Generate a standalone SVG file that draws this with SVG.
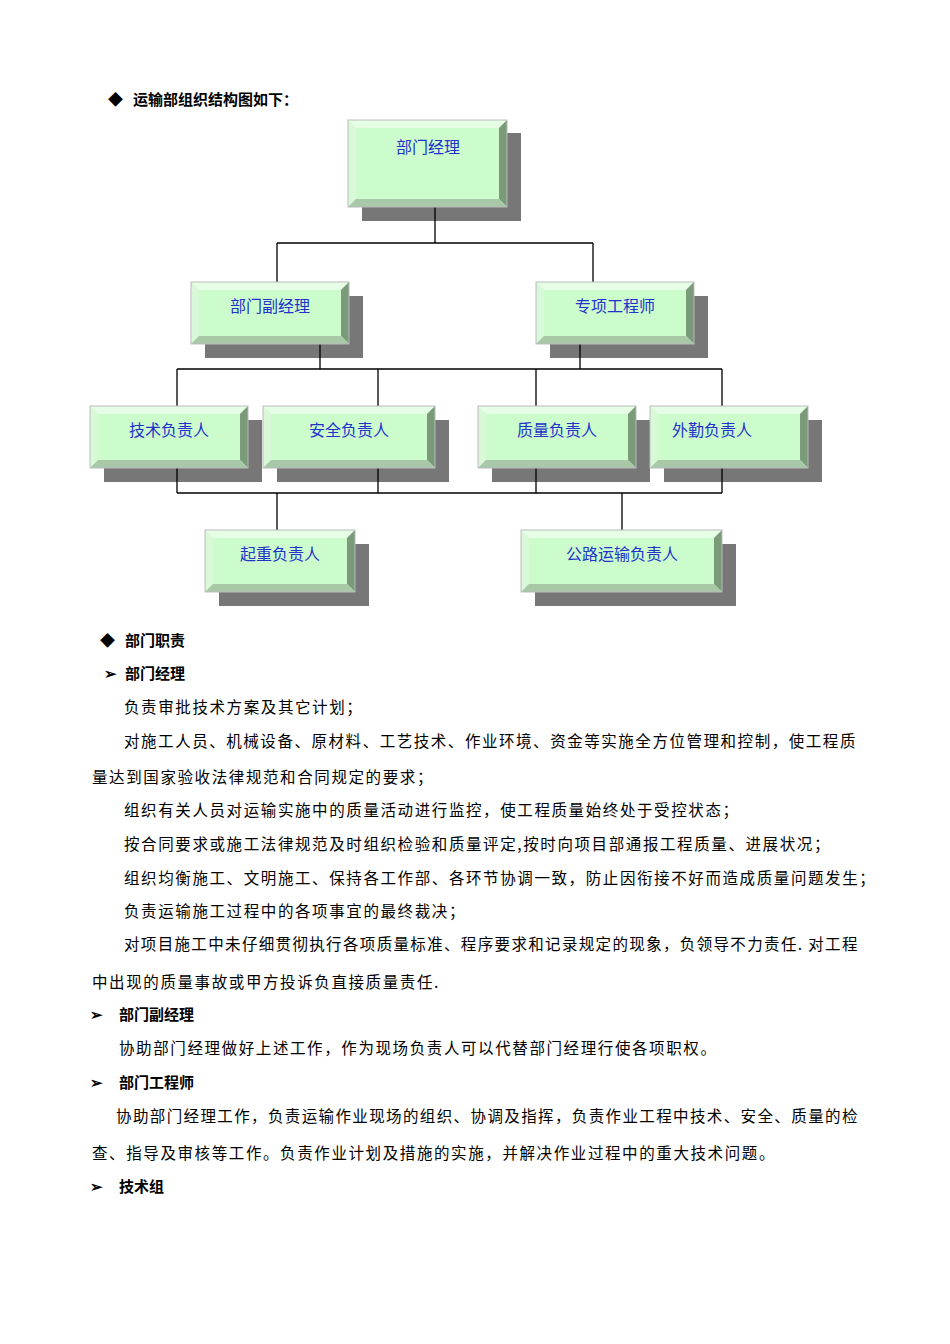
<svg xmlns="http://www.w3.org/2000/svg" width="950" height="1344" viewBox="0 0 950 1344">
<defs>
<style>
.sh{fill:#777}
.f{fill:#ccfccc}
.bt{fill:#e6fde6}
.bl{fill:#d8f8d8}
.br{fill:#7a9a7a}
.bb{fill:#a8c8a8}
.o{fill:none;stroke:#bbb;stroke-width:1}
.nt{font-family:"Noto Sans CJK SC",sans-serif;font-size:16px;fill:#2233cc;text-anchor:middle}
.c{stroke:#000;stroke-width:1.3;fill:none}
.t{font-family:"Noto Sans CJK SC",sans-serif;font-size:15.5px;fill:#000;letter-spacing:1.6px}
.h{font-family:"Noto Sans CJK SC",sans-serif;font-size:15px;font-weight:bold;fill:#000}
</style>
</defs>
<rect width="950" height="1344" fill="#fff"/>
<text class="h" y="105"><tspan x="108">◆</tspan><tspan x="133">运输部组织结构图如下：</tspan></text>
<g id="shadows">
<rect class="sh" x="362" y="133" width="159" height="88"/>
<rect class="sh" x="205" y="296" width="158" height="62"/>
<rect class="sh" x="550" y="296" width="158" height="62"/>
<rect class="sh" x="104" y="420" width="158" height="62"/>
<rect class="sh" x="277" y="420" width="172" height="62"/>
<rect class="sh" x="492" y="420" width="158" height="62"/>
<rect class="sh" x="664" y="420" width="158" height="62"/>
<rect class="sh" x="219" y="544" width="150" height="62"/>
<rect class="sh" x="535" y="544" width="201" height="62"/>
</g>
<g id="connectors">
<path class="c" d="M435 207V243M277 243H593M277 243V282M593 243V282"/>
<path class="c" d="M320 344V369M580 344V369M177 369H722M177 369V406M378 369V406M536 369V406M722 369V406"/>
<path class="c" d="M177 468V493M378 468V493M536 468V493M722 468V493M177 493H722M277 493V530M622 493V530"/>
</g>
<g id="n1"><rect class="f" x="348" y="120" width="159" height="87"/><polygon class="bt" points="348,120 507,120 499,128 356,128"/><polygon class="bl" points="348,120 356,128 356,199 348,207"/><polygon class="br" points="507,120 507,207 499,199 499,128"/><polygon class="bb" points="348,207 507,207 499,199 356,199"/><rect class="o" x="348" y="120" width="159" height="87"/><text class="nt" x="428" y="153">部门经理</text></g>
<g id="n2"><rect class="f" x="191" y="282" width="158" height="62"/><polygon class="bt" points="191,282 349,282 341,290 199,290"/><polygon class="bl" points="191,282 199,290 199,336 191,344"/><polygon class="br" points="349,282 349,344 341,336 341,290"/><polygon class="bb" points="191,344 349,344 341,336 199,336"/><rect class="o" x="191" y="282" width="158" height="62"/><text class="nt" x="270" y="312">部门副经理</text></g>
<g id="n3"><rect class="f" x="536" y="282" width="158" height="62"/><polygon class="bt" points="536,282 694,282 686,290 544,290"/><polygon class="bl" points="536,282 544,290 544,336 536,344"/><polygon class="br" points="694,282 694,344 686,336 686,290"/><polygon class="bb" points="536,344 694,344 686,336 544,336"/><rect class="o" x="536" y="282" width="158" height="62"/><text class="nt" x="615" y="312">专项工程师</text></g>
<g id="n4"><rect class="f" x="90" y="406" width="158" height="62"/><polygon class="bt" points="90,406 248,406 240,414 98,414"/><polygon class="bl" points="90,406 98,414 98,460 90,468"/><polygon class="br" points="248,406 248,468 240,460 240,414"/><polygon class="bb" points="90,468 248,468 240,460 98,460"/><rect class="o" x="90" y="406" width="158" height="62"/><text class="nt" x="169" y="436">技术负责人</text></g>
<g id="n5"><rect class="f" x="263" y="406" width="172" height="62"/><polygon class="bt" points="263,406 435,406 427,414 271,414"/><polygon class="bl" points="263,406 271,414 271,460 263,468"/><polygon class="br" points="435,406 435,468 427,460 427,414"/><polygon class="bb" points="263,468 435,468 427,460 271,460"/><rect class="o" x="263" y="406" width="172" height="62"/><text class="nt" x="349" y="436">安全负责人</text></g>
<g id="n6"><rect class="f" x="478" y="406" width="158" height="62"/><polygon class="bt" points="478,406 636,406 628,414 486,414"/><polygon class="bl" points="478,406 486,414 486,460 478,468"/><polygon class="br" points="636,406 636,468 628,460 628,414"/><polygon class="bb" points="478,468 636,468 628,460 486,460"/><rect class="o" x="478" y="406" width="158" height="62"/><text class="nt" x="557" y="436">质量负责人</text></g>
<g id="n7"><rect class="f" x="650" y="406" width="158" height="62"/><polygon class="bt" points="650,406 808,406 800,414 658,414"/><polygon class="bl" points="650,406 658,414 658,460 650,468"/><polygon class="br" points="808,406 808,468 800,460 800,414"/><polygon class="bb" points="650,468 808,468 800,460 658,460"/><rect class="o" x="650" y="406" width="158" height="62"/><text class="nt" x="712" y="436">外勤负责人</text></g>
<g id="n8"><rect class="f" x="205" y="530" width="150" height="62"/><polygon class="bt" points="205,530 355,530 347,538 213,538"/><polygon class="bl" points="205,530 213,538 213,584 205,592"/><polygon class="br" points="355,530 355,592 347,584 347,538"/><polygon class="bb" points="205,592 355,592 347,584 213,584"/><rect class="o" x="205" y="530" width="150" height="62"/><text class="nt" x="280" y="560">起重负责人</text></g>
<g id="n9"><rect class="f" x="521" y="530" width="201" height="62"/><polygon class="bt" points="521,530 722,530 714,538 529,538"/><polygon class="bl" points="521,530 529,538 529,584 521,592"/><polygon class="br" points="722,530 722,592 714,584 714,538"/><polygon class="bb" points="521,592 722,592 714,584 529,584"/><rect class="o" x="521" y="530" width="201" height="62"/><text class="nt" x="622" y="560">公路运输负责人</text></g>
<text class="h" y="646"><tspan x="100">◆</tspan><tspan x="125">部门职责</tspan></text>
<text class="h" y="679"><tspan x="104">➢</tspan><tspan x="125">部门经理</tspan></text>
<text class="t" x="124" y="713">负责审批技术方案及其它计划；</text>
<text class="t" x="124" y="747" textLength="733">对施工人员、机械设备、原材料、工艺技术、作业环境、资金等实施全方位管理和控制，使工程质</text>
<text class="t" x="92" y="783">量达到国家验收法律规范和合同规定的要求；</text>
<text class="t" x="124" y="816">组织有关人员对运输实施中的质量活动进行监控，使工程质量始终处于受控状态；</text>
<text class="t" x="124" y="850">按合同要求或施工法律规范及时组织检验和质量评定,按时向项目部通报工程质量、进展状况；</text>
<text class="t" x="124" y="884">组织均衡施工、文明施工、保持各工作部、各环节协调一致，防止因衔接不好而造成质量问题发生；</text>
<text class="t" x="124" y="917">负责运输施工过程中的各项事宜的最终裁决；</text>
<text class="t" x="124" y="950" textLength="735">对项目施工中未仔细贯彻执行各项质量标准、程序要求和记录规定的现象，负领导不力责任. 对工程</text>
<text class="t" x="92" y="988">中出现的质量事故或甲方投诉负直接质量责任.</text>
<text class="h" y="1020"><tspan x="90">➢</tspan><tspan x="119">部门副经理</tspan></text>
<text class="t" x="119" y="1054">协助部门经理做好上述工作，作为现场负责人可以代替部门经理行使各项职权。</text>
<text class="h" y="1088"><tspan x="90">➢</tspan><tspan x="119">部门工程师</tspan></text>
<text class="t" x="116" y="1122" textLength="743">协助部门经理工作，负责运输作业现场的组织、协调及指挥，负责作业工程中技术、安全、质量的检</text>
<text class="t" x="92" y="1159">查、指导及审核等工作。负责作业计划及措施的实施，并解决作业过程中的重大技术问题。</text>
<text class="h" y="1192"><tspan x="90">➢</tspan><tspan x="119">技术组</tspan></text>
</svg>
